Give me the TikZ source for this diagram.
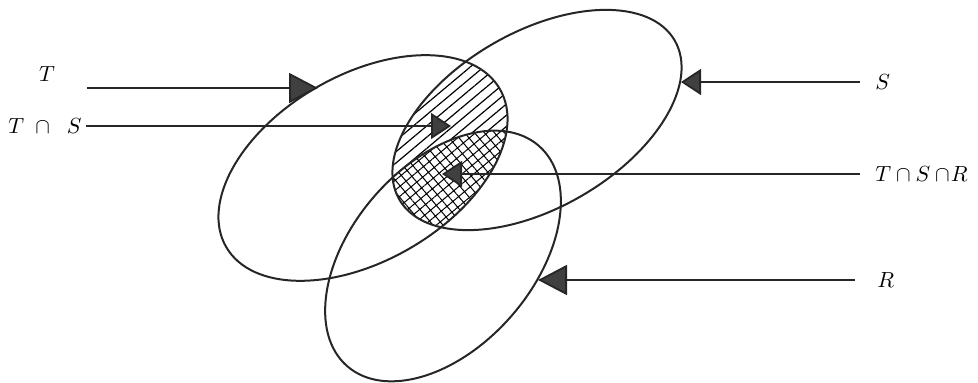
\documentclass[tikz,border=0pt]{standalone}
\usepackage{amsmath,amssymb}
\usetikzlibrary{arrows.meta, patterns.meta, positioning}

% the three sets, before rotation
\newcommand{\ringT}{(363,168) ellipse [x radius=158, y radius=93]}
\newcommand{\ringS}{(537,120) ellipse [x radius=159, y radius=88]}
\newcommand{\ringR}{(443,256) ellipse [x radius=146, y radius=91]}

\begin{document}
\begin{tikzpicture}[
  x=0.5pt, y=-0.5pt,
  every node/.style={font=\fontsize{11}{13}\selectfont, inner sep=2pt},
  ring/.style={draw=black!85, line width=1pt},
  arr/.style={-{Triangle[length=10pt, width=13pt, fill=black!75]},
              line width=0.9pt, draw=black!85},
  bigarr/.style={arr, -{Triangle[length=14.5pt, width=15pt, fill=black!75]}},
  lines/.style={pattern={Lines[angle=40, distance=4.3pt, line width=0.6pt]}},
  crossed/.style={pattern={Hatch[angle=40, distance=3.8pt, line width=0.5pt]}},
  rlab/.style={anchor=west, inner xsep=7.5pt},
  inT/.style={rotate around={30:(363,168)}},
  inS/.style={rotate around={30:(537,120)}},
  inR/.style={rotate around={49:(443,256)}},
]
  \useasboundingbox (0,0) rectangle (978,383);

  % hatching: T and S
  \begin{scope}
    \clip[inT] \ringT;
    \fill[inS, lines] \ringS;
  \end{scope}
  % cross hatching: T, S and R
  \begin{scope}
    \clip[inT] \ringT;
    \clip[inS] \ringS;
    \fill[inR, white] \ringR;
    \fill[inR, crossed] \ringR;
  \end{scope}

  % the three sets
  \draw[ring, inT] \ringT;
  \draw[ring, inS] \ringS;
  \draw[ring, inR] \ringR;

  % labels
  \node (labT) at (47,74) {$T$};
  \node[anchor=east] (labTS) at (86,126) {$T\;\cap\;\;S$};
  \node[rlab] (labS) at (860,82) {$S$};
  \node[rlab] (labTSR) at (860,174) {$T\cap S\cap\!R$};
  \node[rlab, inner xsep=11pt] (labR) at (855,280) {$R$};

  % arrow ends
  \coordinate (fromT)  at (87,88);
  \coordinate (tipT)   at (318,88);
  \coordinate (tipTS)  at (451,126);
  \coordinate (tipS)   at (681,82);
  \coordinate (tipTSR) at (442,174);
  \coordinate (tipR)   at (538,280);

  \draw[bigarr] (fromT) -- (tipT);
  \draw[arr] (labTS.east) -- (tipTS);
  \foreach \a/\b/\s in {labS/tipS/arr, labTSR/tipTSR/arr, labR/tipR/bigarr}
    \draw[\s] (\a.west) -- (\b);
\end{tikzpicture}
\end{document}
